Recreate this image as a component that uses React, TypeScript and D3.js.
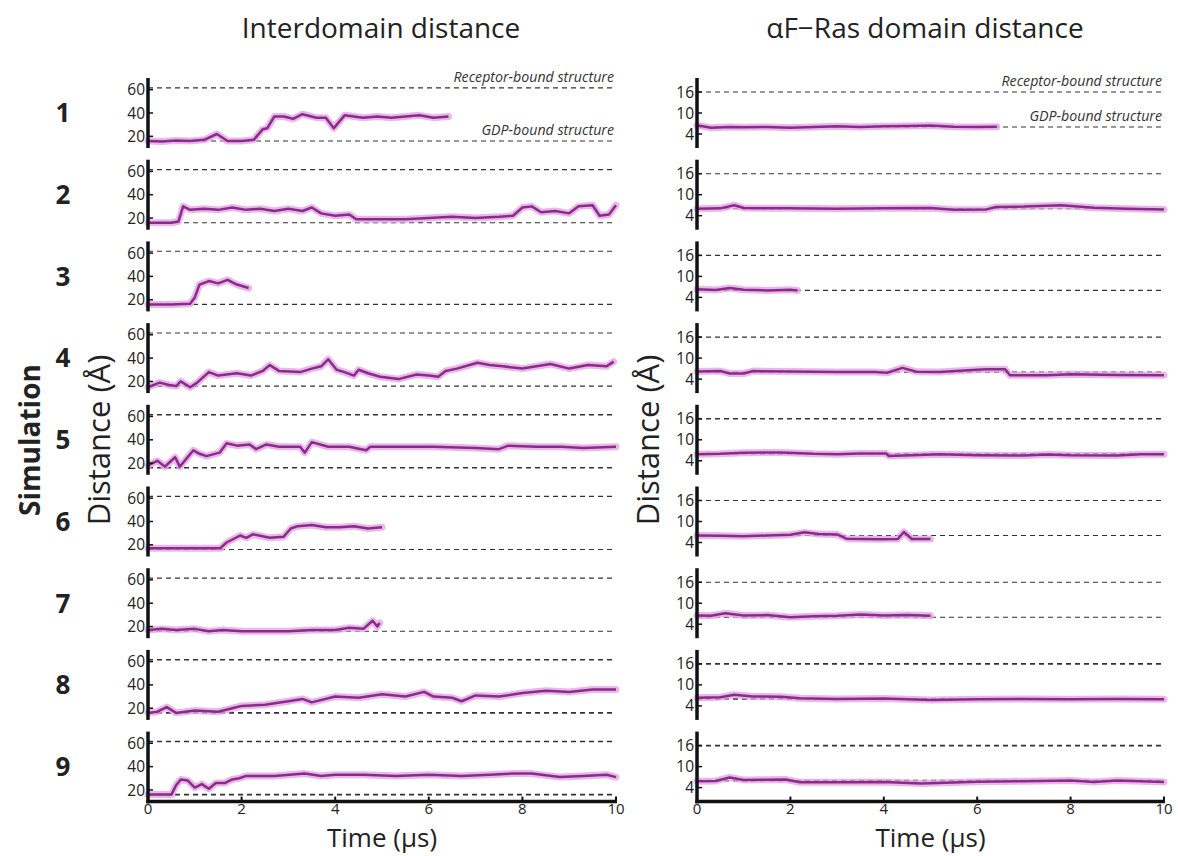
import React from 'react';
import * as d3 from 'd3';

type Pt = [number, number];

// simulation ids
const sims = ['1', '2', '3', '4', '5', '6', '7', '8', '9'];

// interdomain distance (Å) vs time (µs)
const inter1: Pt[] = [[0,16],[0.3,15.5],[0.6,16.5],[0.9,16],[1.2,17],[1.47,22],[1.7,16],[2.0,16],[2.26,17],[2.45,26],[2.55,27],[2.7,37],[2.9,37],[3.1,35],[3.3,39],[3.6,36],[3.8,36],[3.97,27],[4.2,38],[4.6,36],[4.9,37],[5.2,36],[5.5,37],[5.8,38],[6.1,36],[6.42,37]];
const inter2: Pt[] = [[0,16],[0.5,16],[0.65,17],[0.75,30],[0.9,27],[1.2,28],[1.5,27],[1.8,29],[2.1,27],[2.4,28],[2.7,26],[3.0,28],[3.3,26],[3.5,29],[3.7,24],[4.0,22],[4.3,23],[4.45,19],[5.0,19],[5.5,19],[6.0,20],[6.5,21],[7.0,20],[7.5,21],[7.8,22],[8.0,29],[8.2,30],[8.4,25],[8.7,26],[9.0,24],[9.2,30],[9.5,31],[9.65,22],[9.85,23],[10,31]];
const inter3: Pt[] = [[0,16],[0.5,16],[0.9,16.5],[1.0,22],[1.1,33],[1.3,36],[1.5,34],[1.7,37],[1.9,33],[2.15,30]];
const inter4: Pt[] = [[0,15],[0.25,19],[0.45,17],[0.6,16],[0.7,20],[0.9,15],[1.05,19],[1.3,28],[1.5,25],[1.9,27],[2.2,25],[2.45,29],[2.6,34],[2.8,29],[3.25,28],[3.5,31],[3.7,33],[3.85,39],[4.03,30],[4.2,28],[4.4,25],[4.5,30],[4.7,27],[4.96,24],[5.35,22],[5.74,26],[6.0,25],[6.2,24],[6.36,29],[6.6,31],[7.04,36],[7.3,34],[7.58,33],[8.0,31],[8.3,33],[8.6,35],[9.0,31],[9.4,34],[9.8,33],[9.95,37]];
const inter5: Pt[] = [[0,18],[0.2,22],[0.36,17],[0.58,25],[0.68,17],[0.97,31],[1.1,28],[1.25,26],[1.53,29],[1.68,37],[1.9,35],[2.17,36],[2.31,32],[2.53,36],[2.8,34],[3.25,34],[3.35,29],[3.5,38],[3.85,34],[4.3,34],[4.66,31],[4.75,34],[5.5,34],[6.1,34],[7.0,33],[7.5,32],[7.7,35],[8.3,34],[8.84,34],[9.3,33],[10,34]];
const inter6: Pt[] = [[0,17],[0.5,17],[1.0,17],[1.54,17],[1.68,22],[1.97,28],[2.1,26],[2.24,29],[2.6,26],[2.9,27],[3.05,34],[3.2,36],[3.5,37],[3.8,35],[4.1,35],[4.4,36],[4.7,34],[5.0,35]];
const inter7: Pt[] = [[0,17],[0.3,18],[0.6,17],[1.0,18],[1.3,16],[1.6,17],[2.0,16],[2.5,16],[3.0,16],[3.5,17],[4.0,17],[4.3,19],[4.6,18],[4.8,25],[4.9,20],[4.95,23]];
const inter8: Pt[] = [[0,16],[0.2,17],[0.4,21],[0.6,16],[1.0,18],[1.5,17],[1.8,20],[2.0,22],[2.5,23],[3.0,26],[3.3,28],[3.5,25],[4.0,30],[4.5,29],[5.0,32],[5.5,30],[5.9,34],[6.1,30],[6.5,29],[6.7,26],[7.0,31],[7.5,30],[8.0,33],[8.5,35],[9.0,34],[9.5,36],[10,36]];
const inter9: Pt[] = [[0,16],[0.5,16],[0.6,24],[0.7,29],[0.85,28],[1.0,22],[1.15,25],[1.3,21],[1.45,26],[1.65,26],[1.8,29],[1.95,30],[2.1,32],[2.7,32],[3.35,34],[3.7,32],[4.0,33],[4.6,33],[5.3,32],[6.0,33],[6.7,32],[7.3,33],[7.8,34],[8.2,34],[8.8,31],[9.3,32],[9.8,33],[10,31]];

// αF–Ras domain distance (Å)
const af1: Pt[] = [[0,6.5],[0.3,5.8],[0.7,6.0],[1.0,5.9],[1.5,6.0],[2.0,5.8],[2.5,6.0],[3.0,6.2],[3.5,6.0],[4.0,6.2],[4.5,6.3],[5.0,6.4],[5.5,6.1],[6.0,6.0],[6.42,6.1]];
const af2: Pt[] = [[0,6.0],[0.5,6.1],[0.8,7.0],[1.0,6.2],[2.0,6.1],[3.0,6.0],[4.0,6.1],[5.0,6.2],[5.5,5.7],[6.2,5.8],[6.4,6.5],[7.0,6.6],[7.8,7.0],[8.5,6.3],[9.2,6.0],[10,5.8]];
const af3: Pt[] = [[0,6.3],[0.4,6.1],[0.7,6.7],[1.0,6.2],[1.5,6.0],[2.0,6.2],[2.15,6.0]];
const af4: Pt[] = [[0,6.2],[0.5,6.3],[0.7,5.6],[1.0,5.6],[1.2,6.3],[2.0,6.2],[3.0,6.0],[3.8,6.0],[4.07,5.8],[4.4,7.2],[4.7,6.1],[5.2,6.0],[5.8,6.5],[6.2,6.8],[6.6,6.8],[6.7,5.1],[7.5,5.1],[8.0,5.4],[9.0,5.2],[10,5.1]];
const af5: Pt[] = [[0,5.9],[0.5,6.0],[1.0,6.3],[1.8,6.4],[2.5,6.0],[3.0,5.9],[3.5,6.1],[4.05,6.1],[4.1,5.4],[4.6,5.6],[5.2,5.9],[6.0,5.6],[7.0,5.5],[7.5,5.8],[8.0,5.6],[9.0,5.5],[9.5,5.9],[10,5.9]];
const af6: Pt[] = [[0,6.0],[0.5,5.9],[1.0,5.8],[1.5,6.0],[2.0,6.2],[2.3,6.9],[2.6,6.4],[3.0,6.3],[3.2,5.1],[3.9,4.9],[4.3,5.0],[4.43,7.0],[4.6,5.0],[5.0,5.0]];
const af7: Pt[] = [[0,6.5],[0.3,6.4],[0.6,7.1],[1.0,6.5],[1.5,6.6],[2.0,6.0],[2.5,6.3],[3.0,6.4],[3.5,6.8],[4.0,6.5],[4.5,6.6],[5.0,6.4]];
const af8: Pt[] = [[0,6.3],[0.5,6.5],[0.8,7.2],[1.2,6.7],[1.8,6.6],[2.2,6.2],[3.0,6.0],[4.0,6.1],[5.0,5.7],[6.0,5.9],[7.0,6.0],[8.0,5.9],[9.0,6.0],[10,5.9]];
const af9: Pt[] = [[0,5.8],[0.4,5.9],[0.7,6.9],[1.0,6.2],[1.9,6.3],[2.2,5.5],[3.0,5.5],[4.0,5.6],[4.8,5.2],[6.0,5.7],[7.0,5.8],[8.0,6.0],[8.5,5.6],[9.0,6.0],[10,5.6]];

const interSeries = [inter1, inter2, inter3, inter4, inter5, inter6, inter7, inter8, inter9];
const afSeries = [af1, af2, af3, af4, af5, af6, af7, af8, af9];

const interTicks = [20, 40, 60];
const afTicks = [4, 10, 16];
const timeTicks = [0, 2, 4, 6, 8, 10];

// reference structure levels
const interLevels = { receptor: 61.5, gdp: 16 };
const afLevels = { receptor: 16, gdp: 6 };

const FONT = '"Open Sans", "Noto Sans", sans-serif';
const PANEL_H = 70;
const PANEL_STEP = 81.7;
const FIRST_BOTTOM = 148;
const DARK = '#8a2b8c';
const BAND = '#e4a6e2';

interface ColumnProps {
  x0: number;
  x1: number;
  domain: [number, number];
  ticks: number[];
  series: Pt[][];
  levels: { receptor: number; gdp: number };
}

const Column: React.FC<ColumnProps> = ({ x0, x1, domain, ticks, series, levels }) => {
  const x = d3.scaleLinear().domain([0, 10]).range([x0, x1]);
  const lastBottom = FIRST_BOTTOM + (series.length - 1) * PANEL_STEP;
  return (
    <g>
      {series.map((pts, i) => {
        const bottom = FIRST_BOTTOM + i * PANEL_STEP;
        const y = d3.scaleLinear().domain(domain).range([bottom, bottom - PANEL_H]);
        const line = d3.line<Pt>().x(d => x(d[0])).y(d => y(d[1]));
        const heavy = i === 4 || i === 7 || i === 8;
        return (
          <g key={i}>
            {[levels.receptor, levels.gdp].map((lv, k) => (
              <line key={k} x1={x0} x2={x1} y1={y(lv)} y2={y(lv)}
                stroke="#333" strokeWidth={heavy ? 1.6 : 1.1} strokeDasharray="5,4" />
            ))}
            <path d={line(pts) || ''} fill="none" stroke={BAND} strokeOpacity={0.8}
              strokeWidth={7} strokeLinejoin="round" strokeLinecap="round" />
            <path d={line(pts) || ''} fill="none" stroke={DARK}
              strokeWidth={2.5} strokeLinejoin="round" />
            <line x1={x0} x2={x0} y1={bottom - PANEL_H} y2={bottom + (i === series.length - 1 ? 1.75 : 0)}
              stroke="#111" strokeWidth={3.5} />
            {ticks.map(t => (
              <g key={t}>
                <line x1={x0} x2={x0 + 5} y1={y(t)} y2={y(t)} stroke="#111" strokeWidth={1.5} />
                <text x={x0 - 3} y={y(t)} dy="0.36em" textAnchor="end" fontSize={15.5}
                  fill="#222" fontFamily={FONT}>{t}</text>
              </g>
            ))}
            {i === 0 && (
              <g fontFamily={FONT} fontStyle="italic" fontSize={14.2} fill="#333" textAnchor="end">
                <text x={x1 - 2} y={y(levels.receptor) - 6}>Receptor-bound structure</text>
                <text x={x1 - 2} y={y(levels.gdp) - 6}>GDP-bound structure</text>
              </g>
            )}
          </g>
        );
      })}
      <line x1={x0 - 1.75} x2={x1 + 1} y1={lastBottom} y2={lastBottom} stroke="#111" strokeWidth={3.5} />
      {timeTicks.map(t => (
        <g key={t}>
          <line x1={x(t)} x2={x(t)} y1={lastBottom} y2={lastBottom - 5} stroke="#111" strokeWidth={2} />
          <text x={x(t)} y={lastBottom + 12.5} textAnchor="middle" fontSize={15} fill="#222"
            fontFamily={FONT}>{t}</text>
        </g>
      ))}
      <text x={(x0 + x1) / 2} y={lastBottom + 45.5} textAnchor="middle" fontSize={26} fill="#222"
        fontFamily={FONT}>Time (µs)</text>
      <text transform={`translate(${x0 - 38},440) rotate(-90)`} textAnchor="middle" fontSize={31}
        fill="#222" fontFamily={FONT}>Distance (Å)</text>
    </g>
  );
};

export default function App() {
  return (
    <svg width={1178} height={856} style={{ position: 'absolute', left: 0, top: 0, background: '#fff' }}>
      <text x={381} y={38} textAnchor="middle" fontSize={28} fill="#222" fontFamily={FONT}>
        Interdomain distance
      </text>
      <text x={925} y={38} textAnchor="middle" fontSize={28} fill="#222" fontFamily={FONT}>
        αF−Ras domain distance
      </text>
      <text transform="translate(40,440) rotate(-90)" textAnchor="middle" fontSize={28}
        fontWeight="bold" fill="#222" fontFamily={FONT}>Simulation</text>
      {sims.map((s, i) => (
        <text key={s} x={63} y={FIRST_BOTTOM + i * PANEL_STEP - PANEL_H / 2} dy="0.36em"
          textAnchor="middle" fontSize={26} fontWeight="bold" fill="#222" fontFamily={FONT}>{s}</text>
      ))}
      <Column x0={148} x1={616} domain={[10, 70]} ticks={interTicks} series={interSeries} levels={interLevels} />
      <Column x0={697} x1={1164} domain={[0, 20]} ticks={afTicks} series={afSeries} levels={afLevels} />
    </svg>
  );
}
